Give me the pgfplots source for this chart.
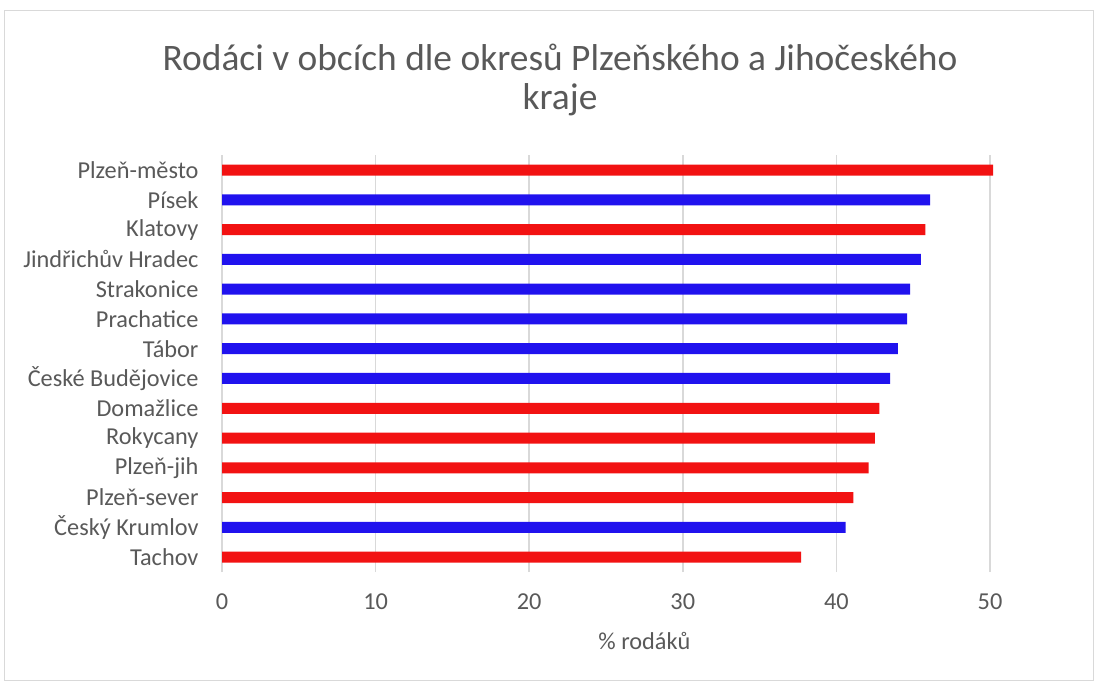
\documentclass[border=0pt]{standalone}
\usepackage{pgfplots}
\pgfplotsset{compat=1.18}
\usepackage{fontspec}
\setmainfont{Carlito}
\definecolor{txt}{HTML}{595959}
\definecolor{gridc}{HTML}{D9D9D9}
\definecolor{rbar}{HTML}{F21212}
\definecolor{bbar}{HTML}{2012EE}
\begin{document}
\begin{tikzpicture}[x=1pt,y=1pt]
\useasboundingbox (0,0) rectangle (1097,683);
\draw[gridc,line width=1pt] (4,3) rectangle (1093,672);
\node[txt,font=\fontsize{37.4}{44}\selectfont] at (560,626) {Rodáci v obcích dle okresů Plzeňského a Jihočeského};
\node[txt,font=\fontsize{37.4}{44}\selectfont] at (560,583) {kraje};
\begin{axis}[
  at={(222pt,111pt)}, anchor=south west,
  scale only axis, width=844.8pt, height=416.8pt,
  xmin=0, xmax=55, ymin=0.5, ymax=14.5,
  xtick={0,10,20,30,40,50},
  ytick={1,...,14},
  yticklabels={Tachov,Český Krumlov,Plzeň-sever,Plzeň-jih,Rokycany,Domažlice,České Budějovice,Tábor,Prachatice,Strakonice,Jindřichův Hradec,Klatovy,Písek,Plzeň-město},
  axis line style={draw=none},
  tick style={draw=none},
  major tick length=0pt,
  xmajorgrids=true, ymajorgrids=false,
  major grid style={draw=gridc,line width=1.5pt},
  tick label style={txt,font=\fontsize{24.3}{29}\selectfont},
  /pgf/number format/assume math mode=true,
  xticklabel style={yshift=-18pt},
  yticklabel style={xshift=-20pt},
  xlabel={\% rodáků},
  xlabel style={txt,font=\fontsize{24.3}{29}\selectfont,yshift=-16pt},
  xbar, bar width=11pt, bar shift=0pt,
]
\addplot[draw=none,fill=rbar] coordinates {(50.2,14) (45.8,12) (42.8,6) (42.5,5) (42.1,4) (41.1,3) (37.7,1)};
\addplot[draw=none,fill=bbar] coordinates {(46.1,13) (45.5,11) (44.8,10) (44.6,9) (44.0,8) (43.5,7) (40.6,2)};
\end{axis}
\end{tikzpicture}
\end{document}
